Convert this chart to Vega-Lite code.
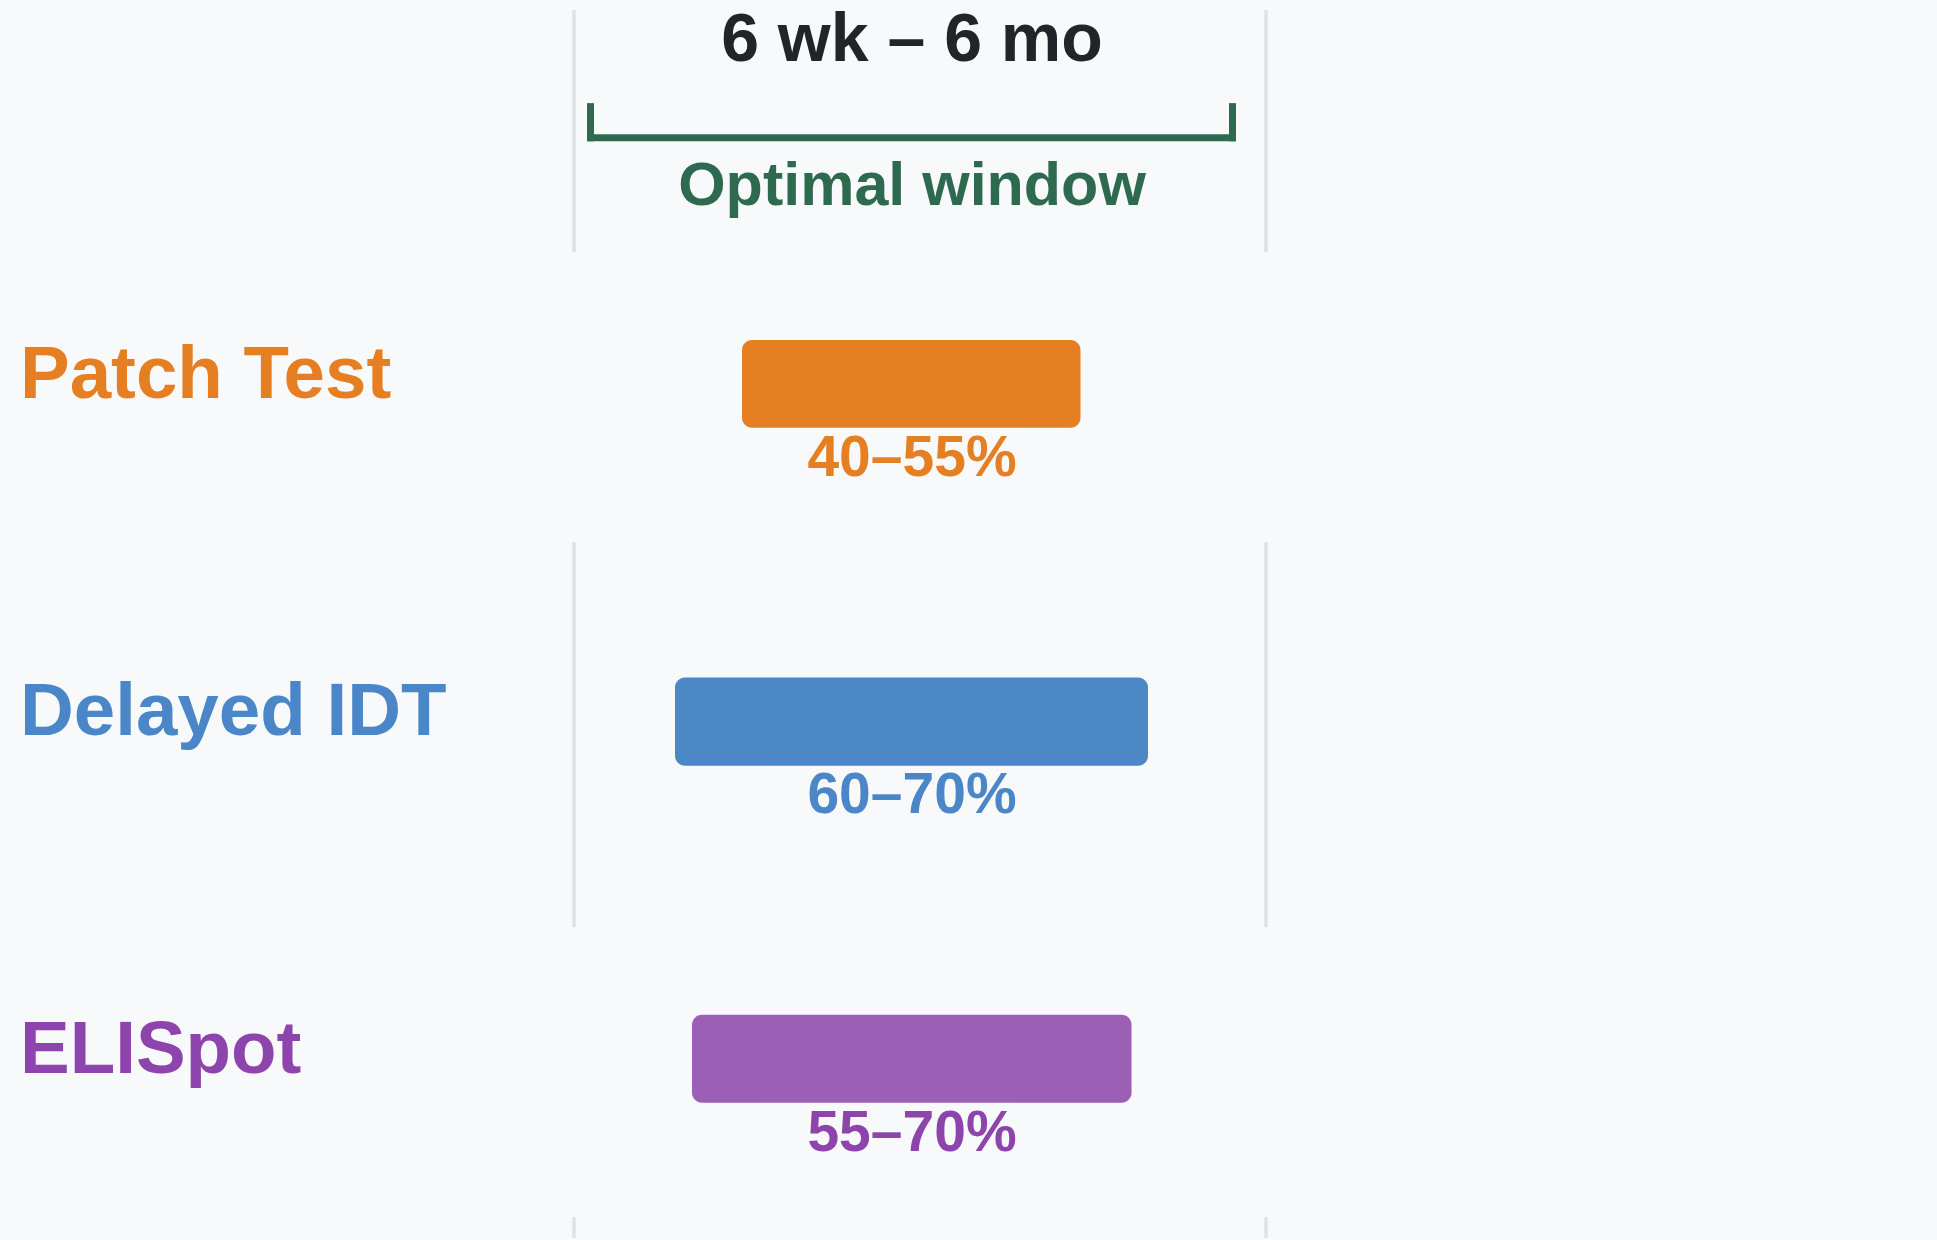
{
  "$schema": "https://vega.github.io/schema/vega-lite/v6.json",
  "autosize": {"type": "fit", "contains": "padding"},
  "width": 1937,
  "height": 1240,
  "padding": 0,
  "background": "#f8f9fa",
  "config": {"view": {"stroke": null}, "text": {"font": "Liberation Sans", "fontWeight": "bold"}},
  "datasets": {
    "grid": [
      {"x": 574, "y": 10, "y2": 252.7},
      {"x": 574, "y": 543, "y2": 928.7},
      {"x": 574, "y": 1219, "y2": 1240},
      {"x": 1266, "y": 10, "y2": 252.7},
      {"x": 1266, "y": 543, "y2": 928.7},
      {"x": 1266, "y": 1219, "y2": 1240}
    ],
    "bracketH": [{"x": 587, "x2": 1236, "y": 138}],
    "bracketV": [
      {"x": 590.5, "y": 103.3, "y2": 141.5},
      {"x": 1232.5, "y": 103.3, "y2": 141.5}
    ],
    "headers": [
      {"text": "6 wk – 6 mo", "kind": "title", "x": 912, "y": 61},
      {"text": "Optimal window", "kind": "window", "x": 912, "y": 205}
    ],
    "rows": [
      {"test": "Patch Test", "range": "40–55%", "lo": 742, "hi": 1080.5, "top": 340.5, "bottom": 428.5, "nameY": 398.5, "rangeY": 476.5},
      {"test": "Delayed IDT", "range": "60–70%", "lo": 675, "hi": 1148, "top": 678.5, "bottom": 767, "nameY": 736.5, "rangeY": 814.5},
      {"test": "ELISpot", "range": "55–70%", "lo": 692, "hi": 1131.5, "top": 1016.5, "bottom": 1104.5, "nameY": 1074.5, "rangeY": 1152.5}
    ]
  },
  "layer": [
    {
      "data": {"name": "grid"},
      "mark": {"type": "rule", "color": "#dfe1e4", "strokeWidth": 3.5},
      "encoding": {
        "x": {"field": "x", "type": "quantitative", "scale": {"domain": [0, 1937], "nice": false, "zero": false}, "axis": null},
        "y": {"field": "y", "type": "quantitative", "scale": {"domain": [0, 1240], "nice": false, "zero": false, "reverse": true}, "axis": null},
        "y2": {"field": "y2"}
      }
    },
    {
      "data": {"name": "bracketH"},
      "mark": {"type": "rule", "color": "#2d6a4f", "strokeWidth": 7},
      "encoding": {
        "x": {"field": "x", "type": "quantitative"},
        "x2": {"field": "x2"},
        "y": {"field": "y", "type": "quantitative"}
      }
    },
    {
      "data": {"name": "bracketV"},
      "mark": {"type": "rule", "color": "#2d6a4f", "strokeWidth": 7},
      "encoding": {
        "x": {"field": "x", "type": "quantitative"},
        "y": {"field": "y", "type": "quantitative"},
        "y2": {"field": "y2"}
      }
    },
    {
      "data": {"name": "headers"},
      "mark": {"type": "text", "align": "center", "baseline": "alphabetic"},
      "encoding": {
        "x": {"field": "x", "type": "quantitative"},
        "y": {"field": "y", "type": "quantitative"},
        "text": {"field": "text"},
        "color": {"field": "kind", "type": "nominal", "scale": {"domain": ["title", "window"], "range": ["#212529", "#2d6a4f"]}, "legend": null},
        "size": {"field": "kind", "type": "nominal", "scale": {"domain": ["title", "window"], "range": [68, 61]}, "legend": null}
      }
    },
    {
      "data": {"name": "rows"},
      "mark": {"type": "bar", "cornerRadius": 10},
      "encoding": {
        "x": {"field": "lo", "type": "quantitative"},
        "x2": {"field": "hi"},
        "y": {"field": "top", "type": "quantitative"},
        "y2": {"field": "bottom"},
        "fill": {"field": "test", "type": "nominal", "scale": {"domain": ["Patch Test", "Delayed IDT", "ELISpot"], "range": ["#e67e22", "#4d88c6", "#9b5fb6"]}, "legend": null}
      }
    },
    {
      "data": {"name": "rows"},
      "mark": {"type": "text", "align": "left", "baseline": "alphabetic", "fontSize": 74.5},
      "encoding": {
        "x": {"datum": 20, "type": "quantitative"},
        "y": {"field": "nameY", "type": "quantitative"},
        "text": {"field": "test"},
        "color": {"field": "test", "type": "nominal", "scale": {"domain": ["Patch Test", "Delayed IDT", "ELISpot"], "range": ["#e67e22", "#4a86c8", "#8e44ad"]}, "legend": null}
      }
    },
    {
      "data": {"name": "rows"},
      "mark": {"type": "text", "align": "center", "baseline": "alphabetic", "fontSize": 57},
      "encoding": {
        "x": {"datum": 912, "type": "quantitative"},
        "y": {"field": "rangeY", "type": "quantitative"},
        "text": {"field": "range"},
        "color": {"field": "test", "type": "nominal", "scale": {"domain": ["Patch Test", "Delayed IDT", "ELISpot"], "range": ["#e67e22", "#4a86c8", "#8e44ad"]}, "legend": null}
      }
    }
  ],
  "resolve": {"scale": {"color": "independent"}}
}
